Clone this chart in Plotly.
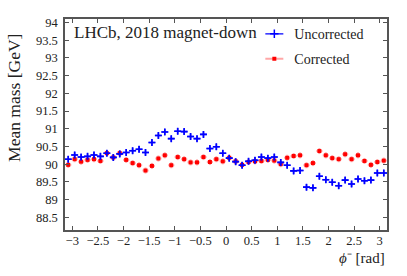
import numpy as np
import plotly.graph_objects as go

n_bins = 50
phi = [-np.pi + (i + 0.5) * 2 * np.pi / n_bins for i in range(n_bins)]

uncorrected = [90.14, 90.26, 90.20, 90.22, 90.26, 90.22, 90.31, 90.19, 90.29, 90.33,
               90.38, 90.42, 90.33, 90.61, 90.81, 90.91, 90.72, 90.93, 90.92, 90.78,
               90.72, 90.84, 90.44, 90.49, 90.31, 90.17, 90.07, 89.97, 90.08, 90.11,
               90.20, 90.17, 90.20, 90.05, 89.97, 89.81, 89.82, 89.35, 89.33, 89.66,
               89.56, 89.49, 89.39, 89.55, 89.44, 89.58, 89.53, 89.55, 89.75, 89.75]

corrected = [89.98, 90.14, 90.07, 90.12, 90.14, 90.09, 90.31, 90.19, 90.31, 90.12,
             90.03, 89.97, 89.82, 89.95, 90.16, 90.25, 89.97, 90.20, 90.14, 90.05,
             90.05, 90.20, 90.06, 90.14, 90.08, 90.18, 90.08, 89.98, 90.06, 90.08,
             90.09, 90.12, 90.10, 90.00, 90.18, 90.23, 90.25, 89.97, 90.03, 90.37,
             90.25, 90.17, 90.14, 90.28, 90.14, 90.25, 90.09, 89.98, 90.06, 90.10]

x_ticks = [-3, -2.5, -2, -1.5, -1, -0.5, 0, 0.5, 1, 1.5, 2, 2.5, 3]
y_ticks = [88.5, 89, 89.5, 90, 90.5, 91, 91.5, 92, 92.5, 93, 93.5, 94]

FONT = "Liberation Serif"
BLUE = "#0000ff"
RED = "#ff0000"
PINK = "rgba(255,60,60,0.45)"

fig = go.Figure()

fig.add_trace(go.Scatter(
    x=phi, y=corrected, mode="markers", showlegend=False,
    marker=dict(symbol="square", size=4, color=RED),
    error_x=dict(type="constant", value=0.06, width=0, thickness=2, color=PINK),
    error_y=dict(type="constant", value=0.085, width=0, thickness=2, color=PINK),
))
fig.add_trace(go.Scatter(
    x=phi, y=uncorrected, mode="markers", showlegend=False,
    marker=dict(symbol="cross-thin", size=5, line=dict(width=1.6, color=BLUE), color=BLUE),
    error_x=dict(type="constant", value=0.065, width=0, thickness=1.6, color="rgba(0,0,255,0.75)"),
    error_y=dict(type="constant", value=0.09, width=0, thickness=1.6, color="rgba(0,0,255,0.75)"),
))

# legend entries (short line segment via dash pattern)
LEG_DASH = "0px,6px,18px,100px"
fig.add_trace(go.Scatter(
    x=[None], y=[None], mode="lines+markers", name="Uncorrected", legend="legend",
    line=dict(color=BLUE, width=1.2, dash=LEG_DASH),
    marker=dict(symbol="cross-thin", size=6, line=dict(width=1.5, color=BLUE)),
))
fig.add_trace(go.Scatter(
    x=[None], y=[None], mode="lines+markers", name="Corrected", legend="legend2",
    line=dict(color=PINK, width=2, dash=LEG_DASH),
    marker=dict(symbol="square", size=4, color=RED),
))

axis_common = dict(
    showline=True, linecolor="#555555", linewidth=1.5, mirror="ticks",
    ticks="inside", ticklen=4, tickwidth=1, tickcolor="#555555",
    showgrid=False, zeroline=False, automargin=False,
    tickfont=dict(family=FONT, size=12.5, color="#222222"),
)

fig.update_xaxes(range=[-np.pi, np.pi], tickvals=x_ticks,
                 ticktext=[("−" if v < 0 else "") + f"{abs(v):g}" for v in x_ticks],
                 ticklabelstandoff=-2, **axis_common)
fig.update_yaxes(range=[88.14, 94.1], tickvals=y_ticks,
                 ticktext=[f"{v:g}" for v in y_ticks], ticklabelstandoff=3, **axis_common)

legend_common = dict(xanchor="left", yanchor="middle", bgcolor="rgba(0,0,0,0)",
                     itemwidth=30, borderwidth=0,
                     font=dict(family=FONT, size=14, color="#222222"))

fig.update_layout(
    width=407, height=276,
    margin=dict(l=65, r=20, t=19, b=46, autoexpand=False),
    plot_bgcolor="white", paper_bgcolor="white",
    font=dict(family=FONT, color="#222222"),
    legend=dict(x=0.588, y=0.928, **legend_common),
    legend2=dict(x=0.588, y=0.81, **legend_common),
    annotations=[
        dict(text="LHCb, 2018 magnet-down", xref="paper", yref="paper",
             x=0.022, y=0.99, xanchor="left", yanchor="top", showarrow=False,
             font=dict(family=FONT, size=17, color="#222222")),
        dict(text="Mean mass [GeV]", xref="paper", yref="paper",
             x=-0.1585, y=0.626, xanchor="center", yanchor="middle", textangle=-90,
             showarrow=False, font=dict(family=FONT, size=17.5, color="#222222")),
        dict(text="<i>ϕ</i>⁻ [rad]", xref="paper", yref="paper",
             x=1.0, y=-0.133, xanchor="right", yanchor="middle", showarrow=False,
             font=dict(family=FONT, size=15, color="#222222")),
    ],
)

fig.write_html("out.html", config={"displayModeBar": False},
               post_script="document.body.style.margin='0';")
